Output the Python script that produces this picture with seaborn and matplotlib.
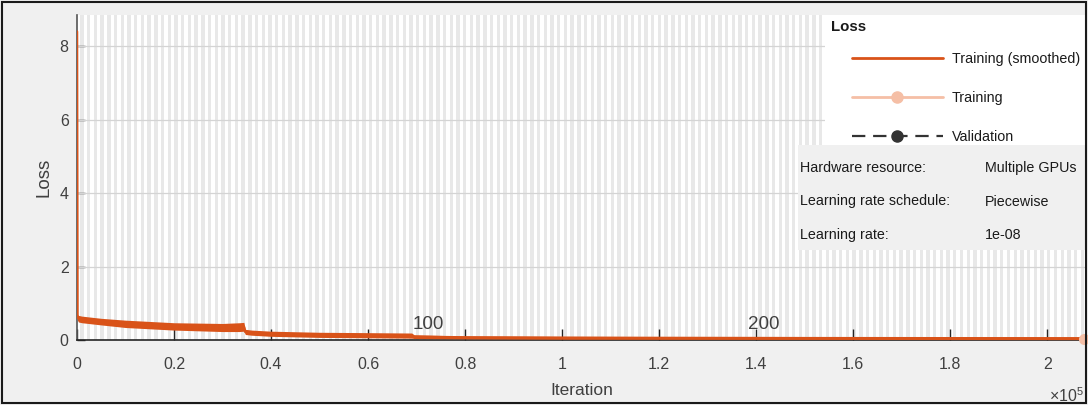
import matplotlib
matplotlib.use("Agg")
import matplotlib.pyplot as plt
from matplotlib.lines import Line2D
from matplotlib.patches import Rectangle
import numpy as np
import pandas as pd
import seaborn as sns

# ---- training record -------------------------------------------------------
iteration = [0, 100, 300, 1000, 5000, 10000, 20000, 30000, 33500, 34400,
             34700, 36000, 40000, 50000, 60000, 69000, 69500, 80000, 100000,
             150000, 207600]
loss_smoothed = [8.4, 0.62, 0.58, 0.56, 0.50, 0.44, 0.37, 0.34, 0.35, 0.36,
                 0.22, 0.20, 0.17, 0.14, 0.13, 0.12, 0.09, 0.07, 0.06,
                 0.05, 0.045]
loss_spread = [0.0, 0.08, 0.09, 0.09, 0.09, 0.10, 0.10, 0.11, 0.12, 0.12,
               0.07, 0.07, 0.07, 0.07, 0.07, 0.07, 0.05, 0.04, 0.04,
               0.035, 0.035]
final_iteration = 207600
final_training_loss = 0.04

iters_per_epoch = 692
n_epochs = 300
epoch_marks = [100, 200, 300]

x_ticks = [0, 0.2, 0.4, 0.6, 0.8, 1.0, 1.2, 1.4, 1.6, 1.8, 2.0]
x_tick_labels = ["0", "0.2", "0.4", "0.6", "0.8", "1", "1.2", "1.4", "1.6",
                 "1.8", "2"]
y_ticks = [0, 2, 4, 6, 8]

info_keys = ["Hardware resource:", "Learning rate schedule:", "Learning rate:"]
info_vals = ["Multiple GPUs", "Piecewise", "1e-08"]

# ---- style -----------------------------------------------------------------
ORANGE = "#D95319"
SALMON = "#F5BFA6"
TEXT = "#404040"
DARK = "#1a1a1a"
sns.set_theme(style="white")
plt.rcParams["font.family"] = ["Liberation Sans", "DejaVu Sans"]
plt.rcParams["mathtext.fontset"] = "custom"
plt.rcParams["mathtext.rm"] = "Liberation Sans"
plt.rcParams["mathtext.it"] = "Liberation Sans:italic"

W, H = 1088, 405
fig = plt.figure(figsize=(W / 100, H / 100), dpi=100, facecolor="#f0f0f0")
ax = fig.add_axes([77 / W, (H - 340) / H, (1086 - 77) / W, (340 - 15) / H])
ax.set_facecolor("white")

# alternating epoch bands
bands = [(k * iters_per_epoch, iters_per_epoch) for k in range(1, n_epochs + 1, 2)]
ax.broken_barh(bands, (0, 1), transform=ax.get_xaxis_transform(),
               facecolor="#e8e8e8", edgecolor="none", zorder=0)

for yv in y_ticks:
    ax.axhline(yv, color="#d4d4d4", lw=0.9, zorder=1)

df = pd.DataFrame({"Iteration": iteration, "Loss": loss_smoothed,
                   "spread": loss_spread})
ax.fill_between(df["Iteration"], df["Loss"] - df["spread"],
                df["Loss"] + df["spread"], color=ORANGE, lw=0, zorder=3)
sns.lineplot(data=df, x="Iteration", y="Loss", ax=ax, color=ORANGE, lw=1.8,
             zorder=4)
ax.plot([final_iteration], [final_training_loss], "o", color=SALMON, ms=7,
        zorder=5, clip_on=False)

# epoch numbers; the last one sits on the right edge and is clipped by the axes
for e in epoch_marks:
    ax.text(e * iters_per_epoch, 0.3, str(e), ha="left", va="baseline",
            fontsize=13.5, color=TEXT, clip_on=True, zorder=6)

ax.set_xlim(0, 208000)
ax.set_ylim(0, 8.85)
ax.set_xticks([t * 1e5 for t in x_ticks])
ax.set_xticklabels(x_tick_labels)
ax.set_yticks(y_ticks)
ax.tick_params(axis="x", direction="in", length=8, width=1, colors="#262626",
               labelcolor=TEXT, labelsize=11.5, pad=12, bottom=True)
ax.tick_params(axis="y", direction="in", length=6, width=1, colors="#262626",
               labelcolor=TEXT, labelsize=11.5, pad=6, left=True)
for side in ("top", "right"):
    ax.spines[side].set_visible(False)
ax.spines["left"].set_color("#555555")
ax.spines["bottom"].set_color("#262626")
ax.spines["left"].set_linewidth(1.2)
ax.spines["bottom"].set_linewidth(1.2)
ax.set_xlabel("Iteration", fontsize=12.5, color=TEXT, labelpad=8)
ax.set_ylabel("Loss", fontsize=13.5, color=TEXT, labelpad=5)
fig.text(1084 / W, 1 - 396 / H, r"$\times10^{5}$", ha="right", va="center",
         fontsize=11.5, color=TEXT)

# legend and info panels
fig.patches.append(Rectangle((825 / W, 1 - 145 / H), (1086 - 825) / W,
                             130 / H, transform=fig.transFigure,
                             facecolor="white", edgecolor="none", zorder=1))
fig.patches.append(Rectangle((798 / W, 1 - 250 / H), (1086 - 798) / W,
                             105 / H, transform=fig.transFigure,
                             facecolor="#f0f0f0", edgecolor="none", zorder=1))
fig.text(831 / W, 1 - 27 / H, "Loss", fontsize=10.8, fontweight="bold",
         color=DARK, va="center", ha="left", zorder=3)
handles = [
    Line2D([], [], color=ORANGE, lw=2),
    Line2D([], [], color=SALMON, lw=2, marker="o", ms=8),
    Line2D([], [], color="#333333", lw=1.6, ls=(0, (6, 3.5)), marker="o",
           ms=8, markerfacecolor="#333333", markeredgecolor="#333333"),
]
fig.legend(handles, ["Training (smoothed)", "Training", "Validation"],
           loc="upper left", bbox_to_anchor=(852 / W, 1 - 52.5 / H),
           frameon=False, fontsize=10.3, borderpad=0, borderaxespad=0,
           handlelength=6.35, handletextpad=0.63, labelspacing=1.73,
           labelcolor=DARK)
for i, (k, v) in enumerate(zip(info_keys, info_vals)):
    y = 1 - (168 + 33.5 * i) / H
    fig.text(800 / W, y, k, fontsize=10.3, color=DARK, va="center", zorder=3)
    fig.text(985 / W, y, v, fontsize=10.3, color=DARK, va="center", zorder=3)

fig.patches.append(Rectangle((2 / W, 2 / H), 1084 / W, 401 / H,
                             transform=fig.transFigure, fill=False,
                             edgecolor=DARK, lw=1.5, zorder=10))

fig.savefig("out.png", dpi=100, facecolor=fig.get_facecolor())
